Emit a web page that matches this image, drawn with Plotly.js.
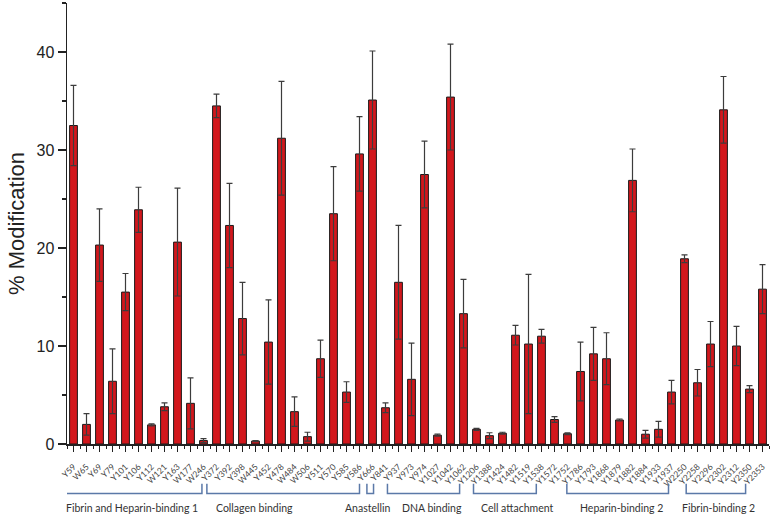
<!DOCTYPE html>
<html>
<head>
<meta charset="utf-8">
<script src="https://cdn.plot.ly/plotly-3.0.1.min.js"></script>
<style>html,body{margin:0;padding:0;background:#fff;}#chart{width:774px;height:521px;}</style>
</head>
<body>
<div id="chart"></div>
<script>
// ---- data ----
const sites = ["Y59","W65","Y69","Y79","Y101","Y106","Y112","W121","Y163","W177","W246",
  "Y372","Y392","Y398","W445","Y452","Y478","W484","W506","Y511","Y570","Y585","Y586",
  "Y666","Y841","Y937","Y973","Y974","Y1027","Y1042","Y1062",
  "Y1206","Y1388","Y1424","Y1482","Y1519","Y1538","Y1572",
  "Y1752","Y1786","Y1793","Y1868","Y1879","Y1882","Y1884","Y1933","Y1937",
  "W2250","Y2258","Y2296","Y2302","Y2312","Y2350","Y2353"];
const modification = [32.5,2.0,20.3,6.4,15.5,23.9,1.95,3.8,20.6,4.15,0.35,
  34.5,22.3,12.8,0.3,10.4,31.2,3.3,0.75,8.7,23.5,5.3,29.6,
  35.1,3.7,16.5,6.6,27.5,0.9,35.4,13.3,
  1.5,0.85,1.1,11.1,10.2,11.0,2.5,
  1.05,7.4,9.2,8.7,2.45,26.9,1.0,1.5,5.3,
  18.9,6.25,10.2,34.1,10.0,5.6,15.8];
const errors = [4.1,1.1,3.7,3.3,1.9,2.3,0.1,0.4,5.5,2.6,0.2,
  1.2,4.3,3.7,0.05,4.3,5.8,1.5,0.45,1.9,4.8,1.05,3.8,
  5.0,0.5,5.8,3.7,3.4,0.1,5.4,3.5,
  0.1,0.3,0.1,1.0,7.1,0.7,0.3,
  0.1,3.0,2.7,2.65,0.1,3.2,0.4,0.8,1.2,
  0.4,1.35,2.3,3.4,2.0,0.35,2.5];
const groupNames = ["Fibrin and Heparin-binding 1","Collagen binding","Anastellin","DNA binding",
  "Cell attachment","Heparin-binding 2","Fibrin-binding 2"];
const groupFirst = ["Y59","Y372","Y666","Y841","Y1206","Y1752","Y2258"];
const groupLast  = ["W246","Y586","Y666","Y1062","Y1538","Y1937","Y2350"];
const yTicks = [0,10,20,30,40];

// ---- style (bracket fine placement relative to first/last bar) ----
const bracketPad = [[-0.77,-0.12],[-0.74,0.0],[-0.43,0.08],[0.15,-0.3],[-0.23,-0.4],[-0.05,-0.23],[-0.87,-0.3]];
const labelShift = [-0.08,-2.2,-0.2,0.65,0.9,0.3,0.2];
const bracketColor = '#5b79a8';

const xIdx = sites.map((s,i)=>i);
const idxOf = s => sites.indexOf(s);

const trace = {
  type:'bar', x:xIdx, y:modification, width:0.6,
  marker:{color:'#d2171c', line:{color:'#1a1a1a', width:1}},
  error_y:{type:'data', array:errors, symmetric:true, visible:true, color:'#3c3c3c', thickness:1.2, width:3},
  hoverinfo:'none'
};

const shapes = [], annotations = [];
const yTop = -0.090, yBot = -0.112;
groupNames.forEach((g,k)=>{
  const a = idxOf(groupFirst[k]) + bracketPad[k][0];
  const b = idxOf(groupLast[k]) + bracketPad[k][1];
  shapes.push({type:'path', xref:'x', yref:'paper',
    path:`M ${a},${yTop} L ${a},${yBot} L ${b},${yBot} L ${b},${yTop}`,
    line:{color:bracketColor, width:1.5}});
  annotations.push({xref:'x', yref:'paper', x:(a+b)/2 + labelShift[k], y:-0.145,
    text:g, showarrow:false, xanchor:'center', yanchor:'middle',
    font:{family:'Lato, "Open Sans", sans-serif', size:10.5, color:'#333'}});
});

const layout = {
  width:774, height:521,
  margin:{l:67, r:5, t:3, b:77},
  paper_bgcolor:'#ffffff', plot_bgcolor:'#ffffff',
  showlegend:false, bargap:0.4,
  xaxis:{range:[-0.5,53.5], tickmode:'array', tickvals:xIdx, ticktext:sites,
    tickangle:-45, ticks:'outside', ticklen:6, tickwidth:1, tickcolor:'#222',
    ticklabelstandoff:7,
    showline:true, linecolor:'#222', linewidth:1.5, showgrid:false, zeroline:false,
    tickfont:{family:'Lato, "Open Sans", sans-serif', size:8.5, color:'#444'},
    minor:{tickmode:'linear', tick0:0.5, dtick:1, ticks:'outside', ticklen:3, tickcolor:'#222', showgrid:false},
    fixedrange:true, automargin:false},
  yaxis:{range:[0,45], tickmode:'array', tickvals:yTicks, ticks:'outside', ticklen:8, tickwidth:1.5, tickcolor:'#222',
    showline:true, linecolor:'#222', linewidth:1.5, showgrid:false, zeroline:false,
    tickfont:{family:'"Liberation Sans", Arial, sans-serif', size:16, color:'#222'},
    minor:{tickmode:'linear', tick0:5, dtick:10, ticks:'outside', ticklen:4, tickcolor:'#222', showgrid:false},
    title:{text:'% Modification', font:{family:'"Liberation Sans", Arial, sans-serif', size:22, color:'#222'}, standoff:6},
    automargin:false},
  shapes:shapes, annotations:annotations
};

Plotly.newPlot('chart',[trace],layout,{staticPlot:true, displayModeBar:false});
</script>
</body>
</html>
